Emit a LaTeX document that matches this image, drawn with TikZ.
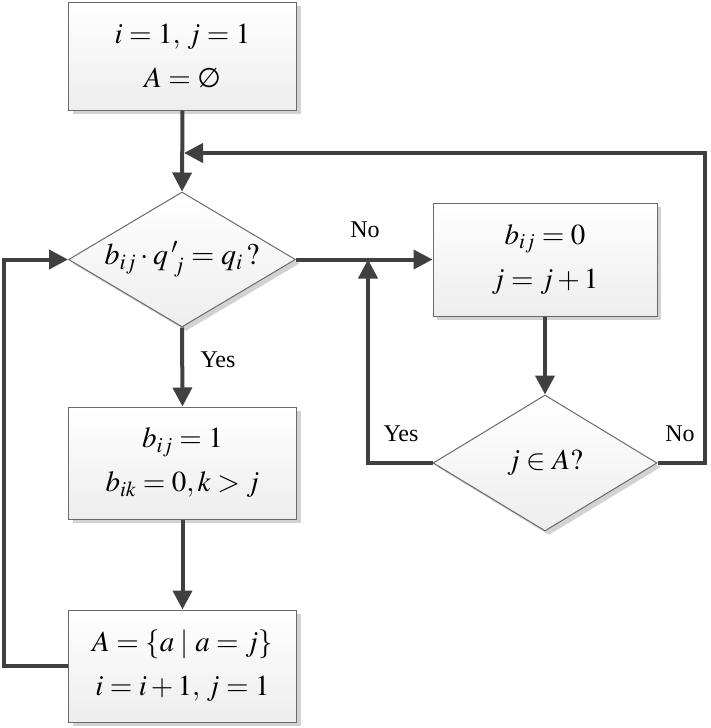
\documentclass[tikz,border=0pt]{standalone}
\usepackage{mathptmx}
\usepackage{fontspec}
\setmainfont{Liberation Serif}
\newfontfamily\symfont{DejaVu Sans}
\usetikzlibrary{shapes.geometric,arrows.meta,shadows}
\definecolor{lineC}{HTML}{404040}
\definecolor{edgeC}{HTML}{6A6A6A}
\begin{document}
\begin{tikzpicture}[x=1pt,y={(0pt,-1pt)},
  every node/.style={font=\fontsize{29}{44}\selectfont},
  procbox/.style={draw=edgeC,line width=1pt,rectangle,top color=white,bottom color=gray!14,
    minimum width=228pt,minimum height=112pt,inner sep=0pt,align=center,
    drop shadow={shadow xshift=4pt,shadow yshift=-4pt,fill=gray!35,opacity=1}},
  decbox/.style={draw=edgeC,line width=1pt,diamond,top color=white,bottom color=gray!14,
    minimum width=227pt,minimum height=135pt,inner sep=0pt,
    drop shadow={shadow xshift=4pt,shadow yshift=-4pt,fill=gray!35,opacity=1}},
  conn/.style={draw=lineC,line width=4pt},
  arr/.style={conn,-{Triangle[width=19pt,length=19pt]}},
  lbl/.style={font=\fontsize{24}{28}\selectfont}]
\useasboundingbox (0,0) rectangle (711,728);

\node[procbox,minimum height=108pt] (init) at (182.5,56) {$i=1,\,j=1$\\$A=\mbox{\symfont\fontsize{27}{30}\selectfont ∅}$};
\node[decbox,label={[font=\fontsize{30}{32}\selectfont]center:{$b_{ij}\cdot q\,'_{\,j}=q_i\,?$}}] (d1) at (182,259.5) {};
\node[procbox,minimum width=224pt,minimum height=113pt] (b2) at (545,259.5) {$b_{ij}=0$\\$j=j+1$};
\node[decbox,minimum width=224pt,minimum height=136pt,label={[font=\fontsize{29}{32}\selectfont]center:{$j\in A?$}}] (d2) at (545,463) {};
\node[procbox] (b3) at (182.5,463) {$b_{ij}=1$\\$b_{ik}=0,k>j$};
\node[procbox] (b4) at (182.5,666) {$A=\left\{a\mid a=j\right\}$\\$i=i+1,\,j=1$};

\coordinate (lb) at (4,666);
\coordinate (lt) at (4,259.5);
\coordinate (yb) at (368,463);
\coordinate (yt) at (368,259.5);
\coordinate (nb) at (705,463);
\coordinate (nt) at (705,153);
\coordinate (ne) at (184,153);

\draw[arr] (init.south) -- (d1.north);
\draw[arr] (d1.east) -- (b2.west);
\draw[arr] (d1.south) -- (b3.north);
\draw[arr] (b3.south) -- (b4.north);
\draw[arr] (b4.west) -- (lb) -- (lt) -- (d1.west);
\draw[arr] (b2.south) -- (d2.north);
\draw[arr] (d2.west) -- (yb) -- (yt);
\draw[arr] (d2.east) -- (nb) -- (nt) -- (ne);

\node[lbl] (lno1) at (365,230) {No};
\node[lbl] (lyes1) at (218,360) {Yes};
\node[lbl] (lyes2) at (401,434) {Yes};
\node[lbl] (lno2) at (680,434) {No};
\end{tikzpicture}
\end{document}
